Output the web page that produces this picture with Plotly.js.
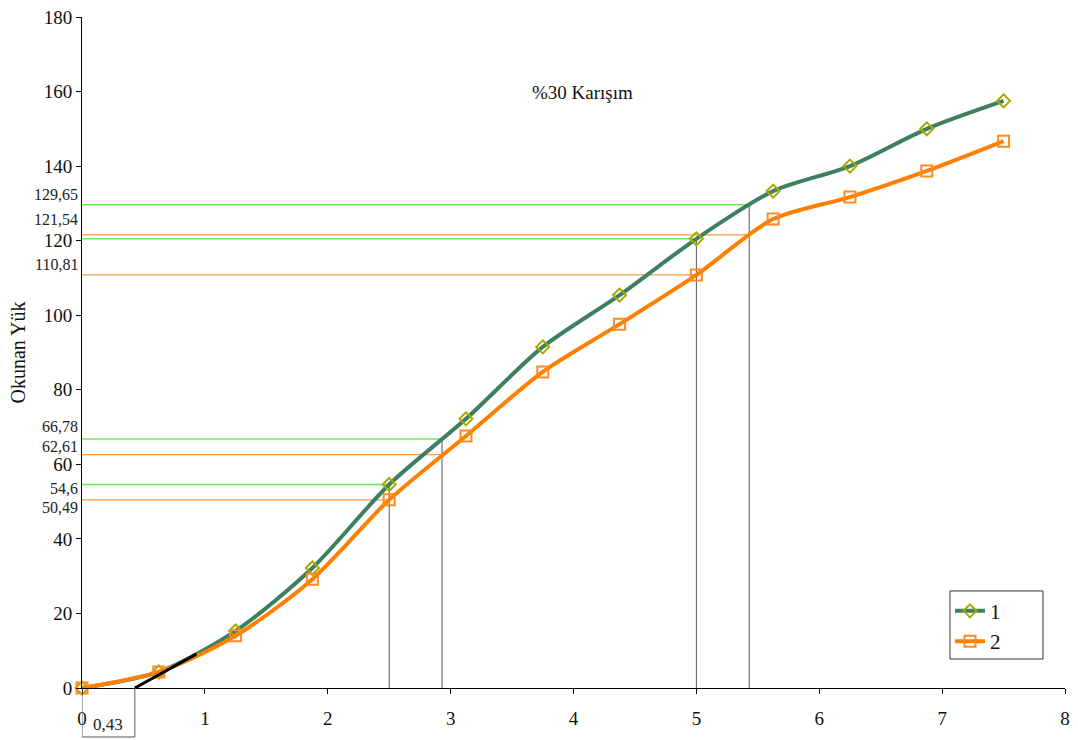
<!DOCTYPE html>
<html>
<head>
<meta charset="utf-8">
<script src="https://cdn.plot.ly/plotly-3.0.1.min.js"></script>
<style>
  html, body { margin: 0; padding: 0; background: #fff; }
  #chart { width: 1078px; height: 740px; }
</style>
</head>
<body>
<div id="chart"></div>
<script>
// Displacement readings (x) and load readings for the two specimens
const xValues = [0, 0.625, 1.25, 1.875, 2.5, 3.125, 3.75, 4.375, 5, 5.625, 6.25, 6.875, 7.5];
const load1 = [0, 4.3, 15.3, 32.2, 54.6, 72.2, 91.5, 105.4, 120.5, 133.3, 140, 150, 157.5];
const load2 = [0, 4.3, 14.0, 29.2, 50.49, 67.6, 84.8, 97.6, 110.81, 125.8, 131.7, 138.7, 146.7];
const seriesNames = ['1', '2'];

// Read-off guides: x position, load value, series
const guideX = [5.43, 5.43, 5, 5, 2.93, 2.93, 2.5, 2.5];
const guideY = [129.65, 121.54, 120.5, 110.81, 66.78, 62.61, 54.6, 50.49];
const guideSeries = [1, 2, 1, 2, 1, 2, 1, 2];
const guideLabels = ['129,65', '121,54', '', '110,81', '66,78', '62,61', '54,6', '50,49'];
const labelShift = [10, 15, 0, 10, 13, 8, -4, -8];

// Initial tangent line and its intercept
const tangentX = [0.43, 0.93];
const tangentY = [0, 9.1];
const interceptLabel = '0,43';

const titleText = '%30 Karışım';
const yTitle = 'Okunan Yük';

const serif = '"Liberation Serif", "Times New Roman", serif';
const green = '#3d7f5e';
const orange = '#ff8000';
const guideColor = {1: '#66ee55', 2: '#ff9a40'};

const traces = [
  {
    x: xValues, y: load1, name: seriesNames[0], type: 'scatter', mode: 'lines+markers',
    line: {color: green, width: 4, shape: 'spline', smoothing: 0.8},
    marker: {symbol: 'diamond-open', size: 10, color: '#a8a800', line: {width: 2, color: '#a8a800'}},
    cliponaxis: false
  },
  {
    x: xValues, y: load2, name: seriesNames[1], type: 'scatter', mode: 'lines+markers',
    line: {color: orange, width: 4, shape: 'spline', smoothing: 0.8},
    marker: {symbol: 'square-open', size: 11, color: '#ff8a20', line: {width: 2, color: '#ff8a20'}},
    cliponaxis: false
  }
];

const shapes = [];
const annotations = [];
guideY.forEach((v, i) => {
  shapes.push({
    type: 'line', xref: 'x', yref: 'y', x0: 0, x1: guideX[i], y0: v, y1: v,
    line: {color: guideColor[guideSeries[i]], width: guideSeries[i] === 1 ? 1.5 : 1.2},
    layer: 'below'
  });
  if (guideLabels[i]) {
    annotations.push({
      text: guideLabels[i], xref: 'paper', yref: 'y', x: 0, y: v,
      xanchor: 'right', yanchor: 'middle', xshift: -3, yshift: labelShift[i],
      showarrow: false, borderpad: 0,
      font: {family: serif, size: 16, color: '#222'}
    });
  }
});
// vertical drops from the series-1 points down to the axis
guideY.forEach((v, i) => {
  if (guideSeries[i] === 1) {
    shapes.push({
      type: 'line', xref: 'x', yref: 'y', x0: guideX[i], x1: guideX[i], y0: 0, y1: v,
      line: {color: '#555', width: 1}, layer: 'below'
    });
  }
});
// tangent line
shapes.push({
  type: 'line', xref: 'x', yref: 'y', x0: tangentX[0], x1: tangentX[1], y0: tangentY[0], y1: tangentY[1],
  line: {color: '#000', width: 3}, layer: 'above'
});
// box marking the intercept below the axis
shapes.push({
  type: 'path', xref: 'x', yref: 'paper',
  path: `M 0 0 L 0 -0.073 L ${tangentX[0]} -0.073 L ${tangentX[0]} 0`,
  line: {color: '#555', width: 1}
});
// frame around the legend
shapes.push({
  type: 'rect', xref: 'paper', yref: 'paper',
  x0: 0.883, x1: 0.9776, y0: 0.0432, y1: 0.1446,
  line: {color: '#333', width: 1}, fillcolor: 'rgba(0,0,0,0)', layer: 'above'
});
annotations.push({
  text: interceptLabel, xref: 'x', yref: 'paper', x: tangentX[0] / 2, y: -0.055,
  xanchor: 'center', yanchor: 'middle', showarrow: false,
  font: {family: serif, size: 17, color: '#222'}
});
annotations.push({
  text: titleText, xref: 'paper', yref: 'paper', x: 0.509, y: 0.888,
  xanchor: 'center', yanchor: 'middle', showarrow: false,
  font: {family: serif, size: 19, color: '#111'}
});

const layout = {
  width: 1078, height: 740,
  margin: {l: 82, r: 13, t: 17, b: 52},
  paper_bgcolor: '#fff', plot_bgcolor: '#fff',
  font: {family: serif, size: 18, color: '#111'},
  showlegend: true,
  legend: {
    x: 0.883, y: 0.145, xanchor: 'left', yanchor: 'top',
    borderwidth: 0, bgcolor: 'rgba(0,0,0,0)',
    font: {family: serif, size: 21, color: '#111'}
  },
  xaxis: {
    range: [0, 8], dtick: 1, showgrid: false, zeroline: false,
    showline: true, linecolor: '#000', linewidth: 1,
    ticks: 'outside', ticklen: 5, tickcolor: '#000', ticklabelstandoff: 8,
    tickfont: {family: serif, size: 19, color: '#111'}
  },
  yaxis: {
    range: [0, 180], dtick: 20, showgrid: false, zeroline: false,
    showline: true, linecolor: '#000', linewidth: 1,
    ticks: 'outside', ticklen: 5, tickcolor: '#000',
    tickfont: {family: serif, size: 19, color: '#111'},
    title: {text: yTitle, font: {family: serif, size: 20, color: '#111'}, standoff: 12}
  },
  shapes: shapes,
  annotations: annotations
};

Plotly.newPlot('chart', traces, layout, {displayModeBar: false, staticPlot: true});
</script>
</body>
</html>
